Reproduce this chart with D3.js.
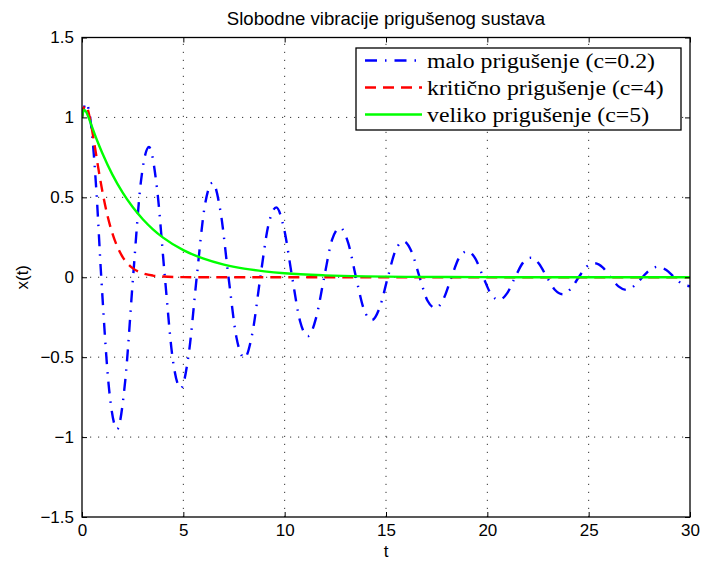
<!DOCTYPE html>
<html>
<head>
<meta charset="utf-8">
<script src="https://cdn.jsdelivr.net/npm/d3@7"></script>
<style>
  html, body { margin: 0; padding: 0; background: #fff; }
  svg { display: block; }
</style>
</head>
<body>
<svg id="chart" width="702" height="563"></svg>
<script>
// ---- chart text ----
const titleText = "Slobodne vibracije prigušenog sustava";
const xLabelText = "t";
const yLabelText = "x(t)";
const xTicks = [0, 5, 10, 15, 20, 25, 30];
const xTickLabels = ["0", "5", "10", "15", "20", "25", "30"];
const yTicks = [-1.5, -1, -0.5, 0, 0.5, 1, 1.5];
const yTickLabels = ["\u22121.5", "\u22121", "\u22120.5", "0", "0.5", "1", "1.5"];
const seriesLabels = [
  "malo prigušenje (c=0.2)",
  "kritično prigušenje (c=4)",
  "veliko prigušenje (c=5)"
];

// ---- series: small damping (c=0.2) ----
const tMalo = [
  0, 0.2, 0.45, 0.7, 0.95,
  1.34, 1.735, 2.13, 2.52,
  2.91, 3.305, 3.70, 4.09,
  4.48, 4.875, 5.27, 5.66,
  6.05, 6.445, 6.84, 7.23,
  7.62, 8.015, 8.41, 8.80,
  9.19, 9.585, 9.98, 10.37,
  10.76, 11.155, 11.55, 11.95,
  12.34, 12.735, 13.13, 13.52,
  13.91, 14.305, 14.70, 15.09,
  15.48, 15.875, 16.27, 16.66,
  17.05, 17.445, 17.84, 18.23,
  18.62, 19.015, 19.41, 19.80,
  20.19, 20.585, 20.98, 21.37,
  21.76, 22.155, 22.55, 22.94,
  23.33, 23.725, 24.12, 24.51,
  24.90, 25.295, 25.69, 26.08,
  26.47, 26.865, 27.26, 27.65,
  28.04, 28.435, 28.83, 29.22,
  29.61, 30
];
const xMalo = [
  1.00, 1.09, 0.95, 0.56, 0,
  -0.705, -0.95, -0.651, 0,
  0.602, 0.815, 0.557, 0,
  -0.515, -0.695, -0.476, 0,
  0.440, 0.592, 0.407, 0,
  -0.376, -0.505, -0.348, 0,
  0.322, 0.437, 0.297, 0,
  -0.275, -0.368, -0.254, 0,
  0.235, 0.310, 0.217, 0,
  -0.201, -0.268, -0.185, 0,
  0.171, 0.225, 0.158, 0,
  -0.147, -0.193, -0.135, 0,
  0.125, 0.163, 0.116, 0,
  -0.107, -0.142, -0.099, 0,
  0.0915, 0.122, 0.0845, 0,
  -0.078, -0.106, -0.072, 0,
  0.067, 0.088, 0.062, 0,
  -0.057, -0.079, -0.053, 0,
  0.049, 0.066, 0.045, 0,
  -0.042, -0.056
];

// ---- series: critical damping (c=4) ----
const tKriticno = [0, 0.08, 0.17, 0.25, 0.4, 0.6, 0.8, 1.0, 1.25, 1.5, 1.75, 2.0, 2.5, 3.0, 3.5, 4.0, 5.0, 6.0, 8.0, 30];
const xKriticno = [1.0, 1.057, 1.075, 1.061, 0.988, 0.843, 0.686, 0.541, 0.390, 0.274, 0.189, 0.128, 0.057, 0.025, 0.0105, 0.0044, 0.0007, 0.0001, 0, 0];

// ---- series: heavy damping (c=5) ----
const tVeliko = [0, 0.05, 0.1, 0.2, 0.35, 0.5, 0.75, 1.0, 1.5, 2.0, 2.5, 3.0, 3.5, 4.0, 5.0, 6.0, 7.0, 8.0, 9.0, 10.0, 12.0, 14.0, 16.0, 18.0, 20.0, 25.0, 30.0];
const xVeliko = [1.0, 1.034, 1.046, 1.036, 0.991, 0.939, 0.854, 0.777, 0.642, 0.531, 0.439, 0.363, 0.300, 0.248, 0.170, 0.116, 0.079, 0.054, 0.037, 0.025, 0.012, 0.0056, 0.0026, 0.0012, 0.0006, 0.0001, 0];

const seriesColors = ["#0000ff", "#ff0000", "#00ff00"];
const seriesDash = ["12,8,1.5,8", "11,7", null];

// ---- layout ----
const W = 702, H = 563;
const plot = { left: 82, right: 690, top: 37.5, bottom: 517 };
const sansFont = "'Liberation Sans', Arial, Helvetica, sans-serif";
const serifFont = "'Liberation Serif', 'Times New Roman', serif";

const svg = d3.select("#chart");
svg.append("rect").attr("width", W).attr("height", H).attr("fill", "#fff");

const x = d3.scaleLinear().domain([0, 30]).range([plot.left, plot.right]);
const y = d3.scaleLinear().domain([-1.5, 1.5]).range([plot.bottom, plot.top]);

// grid (dotted)
const grid = svg.append("g")
  .attr("stroke", "#333").attr("stroke-width", 1)
  .attr("stroke-dasharray", "1.2,6.8").attr("fill", "none");
xTicks.slice(1, -1).forEach(v => {
  grid.append("line").attr("x1", x(v)).attr("x2", x(v))
    .attr("y1", plot.bottom).attr("y2", plot.top);
});
yTicks.slice(1, -1).forEach(v => {
  grid.append("line").attr("x1", plot.left).attr("x2", plot.right)
    .attr("y1", y(v)).attr("y2", y(v));
});

// series lines
const seriesData = [
  tMalo.map((t, i) => [t, xMalo[i]]),
  tKriticno.map((t, i) => [t, xKriticno[i]]),
  tVeliko.map((t, i) => [t, xVeliko[i]])
];
const lineGen = d3.line()
  .x(d => x(d[0])).y(d => y(d[1]))
  .curve(d3.curveMonotoneX);

svg.append("clipPath").attr("id", "plotclip")
  .append("rect").attr("x", plot.left).attr("y", plot.top)
  .attr("width", plot.right - plot.left).attr("height", plot.bottom - plot.top);

const linesG = svg.append("g").attr("clip-path", "url(#plotclip)");
seriesData.forEach((data, i) => {
  linesG.append("path")
    .datum(data)
    .attr("d", lineGen)
    .attr("fill", "none")
    .attr("stroke", seriesColors[i])
    .attr("stroke-width", 2.4)
    .attr("stroke-dasharray", seriesDash[i])
    .attr("stroke-linejoin", "round");
});

// axes with inward ticks on all four sides
const tickLen = 5;
const axisBottom = d3.axisBottom(x).tickValues(xTicks)
  .tickFormat((d, i) => xTickLabels[i]).tickSizeInner(-tickLen).tickSizeOuter(0).tickPadding(7);
const axisTop = d3.axisTop(x).tickValues(xTicks)
  .tickFormat("").tickSizeInner(-tickLen).tickSizeOuter(0);
const axisLeft = d3.axisLeft(y).tickValues(yTicks)
  .tickFormat((d, i) => yTickLabels[i]).tickSizeInner(-tickLen).tickSizeOuter(0).tickPadding(8);
const axisRight = d3.axisRight(y).tickValues(yTicks)
  .tickFormat("").tickSizeInner(-tickLen).tickSizeOuter(0);

function styleAxis(g) {
  g.select(".domain").remove();
  g.selectAll(".tick line").attr("stroke", "#000").attr("stroke-width", 1);
  g.selectAll(".tick text").attr("fill", "#000")
    .attr("font-family", sansFont).attr("font-size", 17);
}
svg.append("g").attr("transform", `translate(0,${plot.bottom})`).call(axisBottom).call(styleAxis);
svg.append("g").attr("transform", `translate(0,${plot.top})`).call(axisTop).call(styleAxis);
svg.append("g").attr("transform", `translate(${plot.left},0)`).call(axisLeft).call(styleAxis);
svg.append("g").attr("transform", `translate(${plot.right},0)`).call(axisRight).call(styleAxis);

// axes box
svg.append("rect")
  .attr("x", plot.left).attr("y", plot.top)
  .attr("width", plot.right - plot.left).attr("height", plot.bottom - plot.top)
  .attr("fill", "none").attr("stroke", "#000").attr("stroke-width", 1.3);

// title and axis labels
svg.append("text")
  .attr("x", (plot.left + plot.right) / 2).attr("y", 25)
  .attr("text-anchor", "middle")
  .attr("font-family", sansFont).attr("font-size", 18.6)
  .text(titleText);

svg.append("text")
  .attr("x", (plot.left + plot.right) / 2).attr("y", 557)
  .attr("text-anchor", "middle")
  .attr("font-family", sansFont).attr("font-size", 17)
  .text(xLabelText);

svg.append("text")
  .attr("transform", `translate(28,${y(0)}) rotate(-90)`)
  .attr("text-anchor", "middle")
  .attr("font-family", sansFont).attr("font-size", 17)
  .text(yLabelText);

// legend
const legend = { x: 356, y: 48, w: 325, h: 82, rowY0: 60.5, rowStep: 27, sampleX0: 365, sampleX1: 422, textX: 427, firstRowWidth: 228 };
const lg = svg.append("g");
lg.append("rect")
  .attr("x", legend.x).attr("y", legend.y)
  .attr("width", legend.w).attr("height", legend.h)
  .attr("fill", "#fff").attr("stroke", "#000").attr("stroke-width", 1.3);

const labelNodes = [];
seriesLabels.forEach((label, i) => {
  const ry = legend.rowY0 + i * legend.rowStep;
  lg.append("line")
    .attr("x1", legend.sampleX0).attr("x2", legend.sampleX1)
    .attr("y1", ry).attr("y2", ry)
    .attr("stroke", seriesColors[i]).attr("stroke-width", 2.4)
    .attr("stroke-dasharray", seriesDash[i]);
  const t = lg.append("text")
    .attr("x", legend.textX).attr("y", ry + 7.5)
    .attr("font-family", serifFont).attr("font-size", 20)
    .attr("fill", "#000")
    .text(label);
  labelNodes.push(t);
});
// the legend face is wider than the serif font; stretch all rows by one common factor
const stretch = legend.firstRowWidth / labelNodes[0].node().getComputedTextLength();
labelNodes.forEach(t => {
  const w = t.node().getComputedTextLength();
  t.attr("textLength", w * stretch).attr("lengthAdjust", "spacingAndGlyphs");
});
</script>
</body>
</html>
